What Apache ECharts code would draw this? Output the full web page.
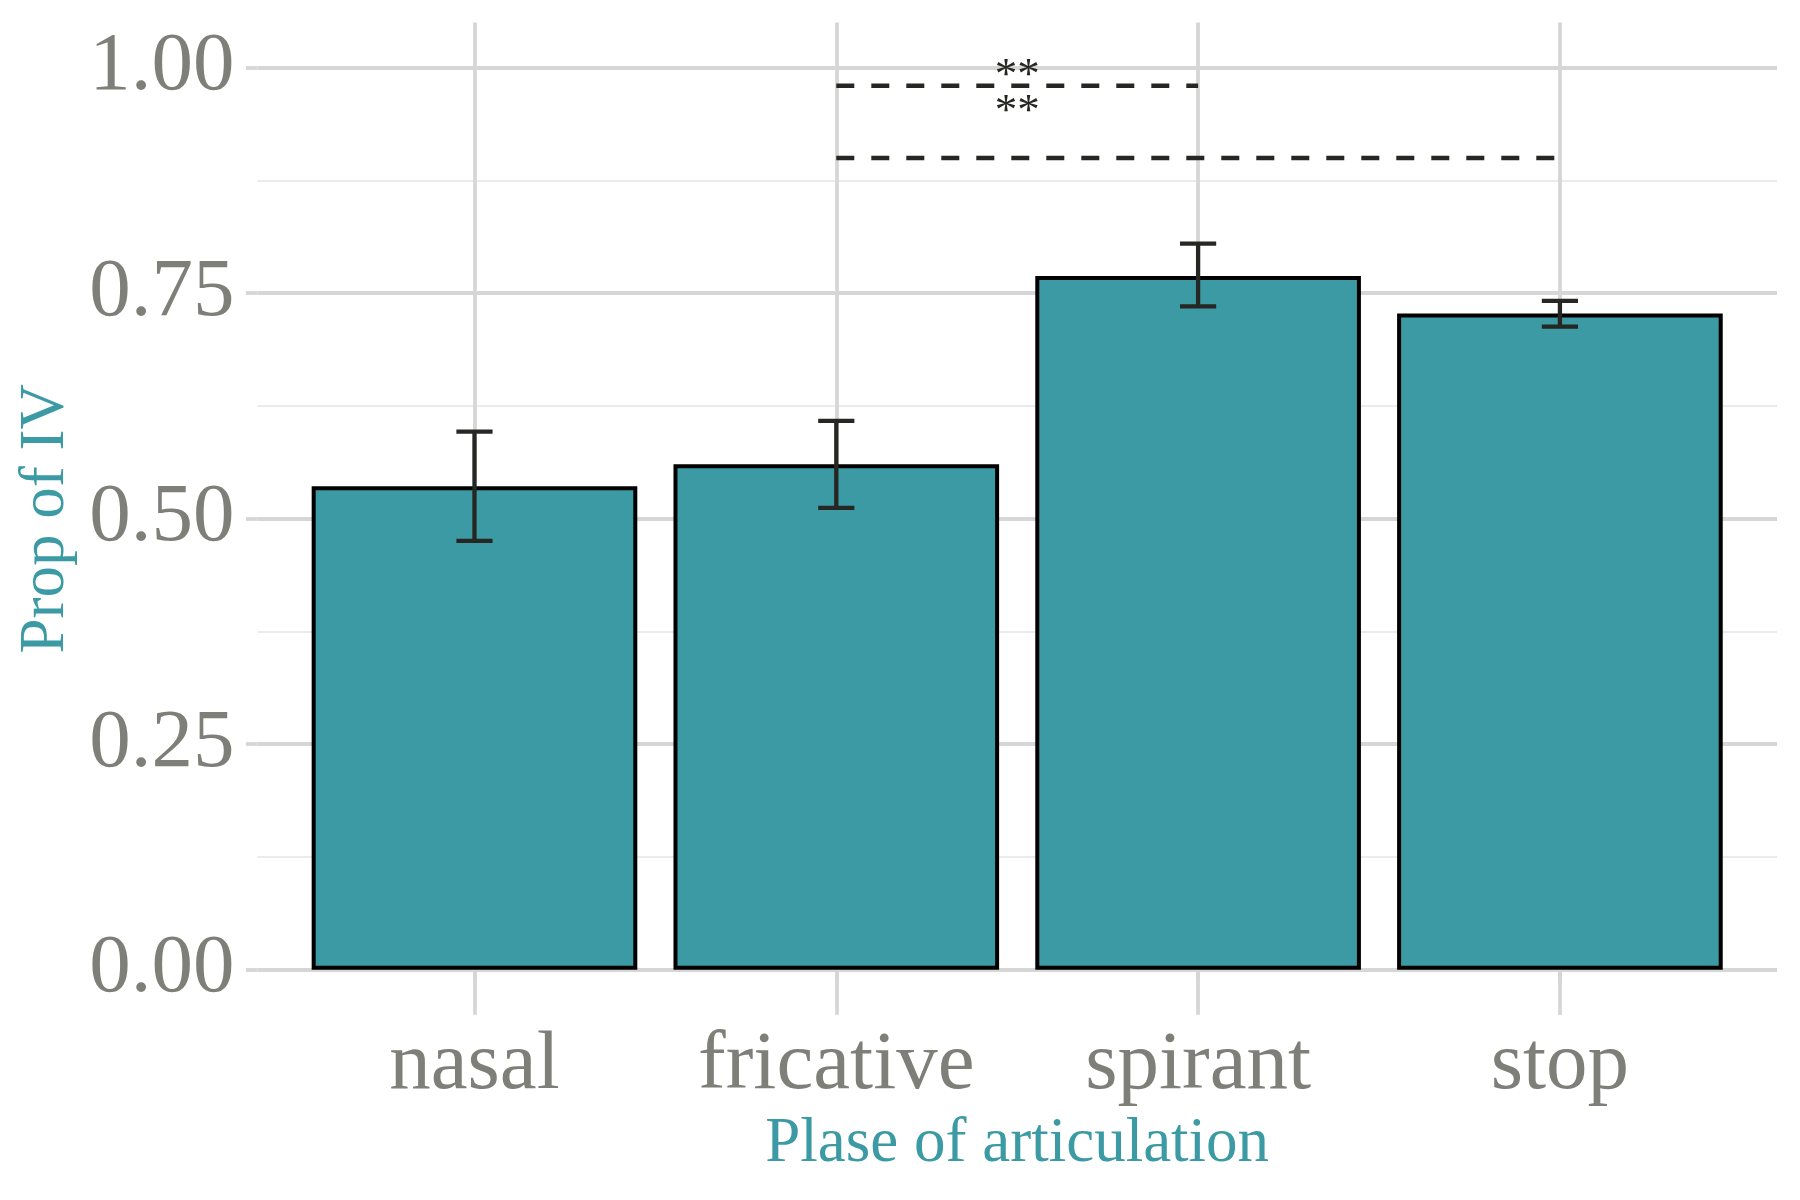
<!DOCTYPE html>
<html>
<head>
<meta charset="utf-8">
<title>Prop of IV by place of articulation</title>
<script src="https://cdn.jsdelivr.net/npm/echarts@6/dist/echarts.min.js"></script>
<style>
  html, body { margin: 0; padding: 0; background: #fff; }
  #main { width: 1800px; height: 1200px; }
</style>
</head>
<body>
<div id="main"></div>
<script>
// categories on the x axis (placed at 1..4)
var categories = ['nasal', 'fricative', 'spirant', 'stop'];
var propIV   = [0.536, 0.5605, 0.769, 0.7275];
var errLow   = [0.4755, 0.512, 0.7355, 0.713];
var errHigh  = [0.5965, 0.6085, 0.805, 0.7415];

// y tick labels
var yMajor = [0, 0.25, 0.5, 0.75, 1];
var yMinor = [0.125, 0.375, 0.625, 0.875];

// significance brackets (x positions are category numbers)
var sigFrom  = [2, 2];
var sigTo    = [3, 4];
var sigY     = [0.98, 0.90];
var starX    = [2.5, 2.5];
var starY    = [0.998, 0.958];
var starText = ['**', '**'];

var serif = '"Liberation Serif", "DejaVu Serif", serif';
var teal = '#3b9aa4';
var labelGrey = '#7f7f7a';
var majorGrid = '#d6d6d6';
var minorGrid = '#ebebeb';
var ink = '#262622';

var chart = echarts.init(document.getElementById('main'));

var barData = propIV.map(function (v, i) { return [i + 1, v]; });
var errData = propIV.map(function (v, i) { return [i + 1, errLow[i], errHigh[i]]; });
var sigData = sigY.map(function (y, i) { return [sigFrom[i], sigTo[i], y]; });
var starData = starY.map(function (y, i) { return [starX[i], y, starText[i]]; });

var option = {
    backgroundColor: '#fff',
    animation: false,
    grid: { left: 257.4, right: 23, top: 22.6, bottom: 185.2 },
    xAxis: {
        type: 'value',
        min: 0.4,
        max: 4.6,
        name: 'Plase of articulation',
        nameLocation: 'middle',
        nameGap: 97,
        nameTextStyle: { fontFamily: serif, fontSize: 63, color: teal },
        axisLine: { show: false },
        axisTick: {
            show: true, length: 11, customValues: [1, 2, 3, 4],
            lineStyle: { color: majorGrid, width: 3.8 }
        },
        axisLabel: {
            customValues: [1, 2, 3, 4],
            margin: 10,
            fontFamily: serif, fontSize: 83, color: labelGrey,
            formatter: function (v) { return categories[Math.round(v) - 1] || ''; }
        },
        splitLine: { show: true, lineStyle: { color: majorGrid, width: 3.8 } }
    },
    yAxis: [{
        type: 'value',
        min: -0.05,
        max: 1.05,
        name: 'Prop of IV',
        nameLocation: 'middle',
        nameGap: 178,
        nameTextStyle: { fontFamily: serif, fontSize: 63, color: teal },
        axisLine: { show: false },
        axisTick: {
            show: true, length: 11.5, customValues: yMajor,
            lineStyle: { color: majorGrid, width: 3.8 }
        },
        axisLabel: {
            customValues: yMajor,
            margin: 23,
            padding: [5, 0, 0, 0],
            fontFamily: serif, fontSize: 83, color: labelGrey,
            formatter: function (v) { return v.toFixed(2); }
        },
        splitLine: { show: true, lineStyle: { color: majorGrid, width: 3.8 } }
    }, {
        type: 'value',
        min: -0.05,
        max: 1.05,
        position: 'left',
        axisLine: { show: false },
        axisTick: { show: false, customValues: yMinor },
        axisLabel: { show: false, customValues: yMinor },
        splitLine: { show: true, lineStyle: { color: minorGrid, width: 2.2 } }
    }],
    series: [{
        type: 'bar',
        data: barData,
        barWidth: '90%',
        z: 3,
        itemStyle: { color: teal, borderColor: '#000', borderWidth: 4 }
    }, {
        type: 'custom',
        data: errData,
        z: 4,
        renderItem: function (params, api) {
            var x = api.value(0);
            var lo = api.coord([x, api.value(1)]);
            var hi = api.coord([x, api.value(2)]);
            var half = api.size([0.1, 0])[0] / 2;
            var st = { stroke: ink, lineWidth: 4.3 };
            return {
                type: 'group',
                children: [
                    { type: 'line', shape: { x1: lo[0], y1: lo[1], x2: hi[0], y2: hi[1] }, style: st },
                    { type: 'line', shape: { x1: hi[0] - half, y1: hi[1], x2: hi[0] + half, y2: hi[1] }, style: st },
                    { type: 'line', shape: { x1: lo[0] - half, y1: lo[1], x2: lo[0] + half, y2: lo[1] }, style: st }
                ]
            };
        }
    }, {
        type: 'custom',
        data: sigData,
        z: 4,
        renderItem: function (params, api) {
            var a = api.coord([api.value(0), api.value(2)]);
            var b = api.coord([api.value(1), api.value(2)]);
            return {
                type: 'line',
                shape: { x1: a[0], y1: a[1], x2: b[0], y2: b[1] },
                style: { stroke: ink, lineWidth: 4.5, lineDash: [18, 17] }
            };
        }
    }, {
        type: 'custom',
        data: starData,
        z: 5,
        renderItem: function (params, api) {
            var p = api.coord([api.value(0), api.value(1)]);
            return {
                type: 'text',
                style: {
                    text: starText[params.dataIndex],
                    x: p[0], y: p[1] + 7,
                    align: 'center', verticalAlign: 'middle',
                    fontFamily: serif, fontSize: 45, fill: ink
                }
            };
        }
    }]
};

chart.setOption(option);
</script>
</body>
</html>
